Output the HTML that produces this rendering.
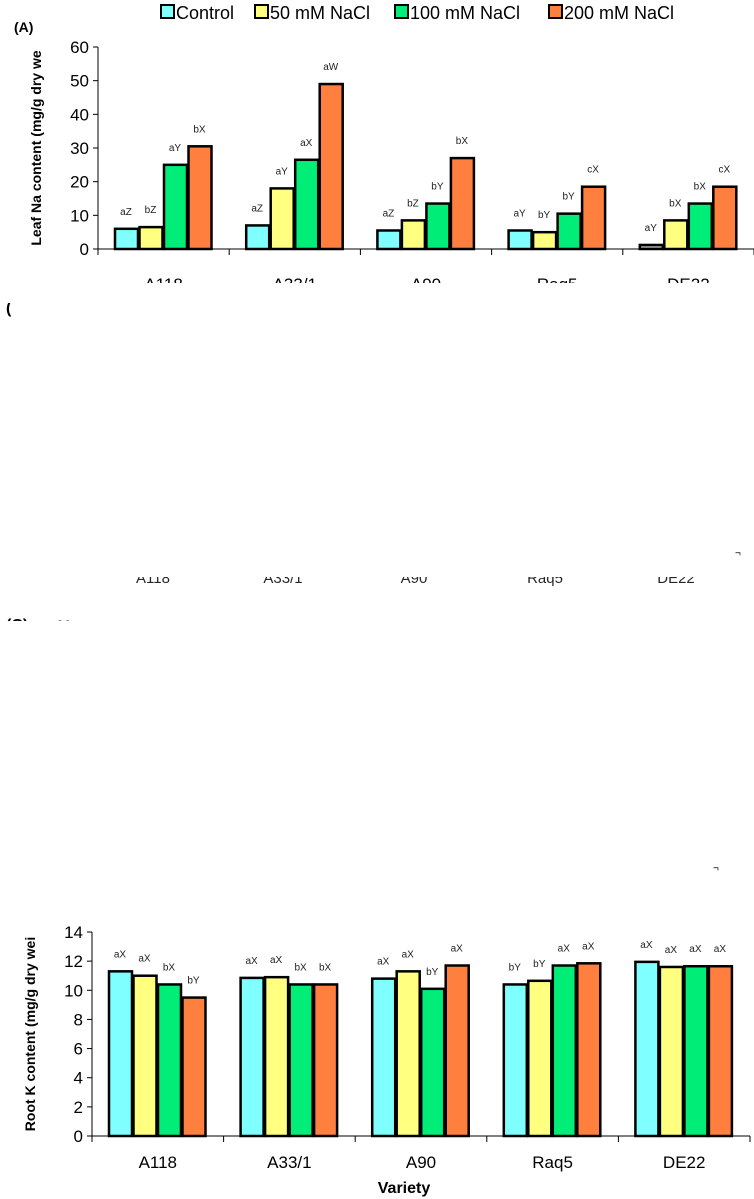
<!DOCTYPE html>
<html><head><meta charset="utf-8">
<style>
body{margin:0;background:#fff;width:754px;height:1199px;overflow:hidden;font-family:"Liberation Sans",sans-serif;}
svg{display:block}
</style></head><body>
<svg id="chart" width="754" height="1199" viewBox="0 0 754 1199">
<g font-size="18" fill="#000">
 <g><rect x="161" y="5" width="13" height="13" fill="#7FFFFF" stroke="#000" stroke-width="2"/><text x="176" y="19">Control</text></g>
 <g><rect x="255" y="5" width="13" height="13" fill="#FFFF80" stroke="#000" stroke-width="2"/><text x="270" y="19">50 mM NaCl</text></g>
 <g><rect x="395" y="5" width="13" height="13" fill="#00EE77" stroke="#000" stroke-width="2"/><text x="410" y="19">100 mM NaCl</text></g>
 <g><rect x="549" y="5" width="13" height="13" fill="#FF7F3F" stroke="#000" stroke-width="2"/><text x="564" y="19">200 mM NaCl</text></g>
</g>
<text x="14" y="32" font-size="14" font-weight="bold">(A)</text>
<text x="6" y="313" font-size="16" font-weight="bold">(</text>
<text x="6" y="630" font-size="16" font-weight="bold">(C)</text>
<text x="56" y="630" font-size="14">20</text>
<rect x="0" y="621" width="120" height="15" fill="#fff"/>
<text x="735" y="556" font-size="10">¬</text>
<text x="713" y="871" font-size="10">¬</text>
<g font-size="15" fill="#000" opacity="0.85">
<text x="153" y="583" text-anchor="middle">A118</text><text x="283" y="583" text-anchor="middle">A33/1</text><text x="414" y="583" text-anchor="middle">A90</text><text x="545" y="583" text-anchor="middle">Raq5</text><text x="676" y="583" text-anchor="middle">DE22</text>
</g>
<rect x="100" y="565" width="640" height="12" fill="#fff"/>
<g id="top"></g>
<g id="bot"></g>
<rect x="0" y="283" width="754" height="20" fill="#fff"/>
</svg>
<script>
const categories=["A118","A33/1","A90","Raq5","DE22"];
const seriesNames=["Control","50 mM NaCl","100 mM NaCl","200 mM NaCl"];
const naControl=[6,7,5.5,5.5,1.2];
const na50=[6.5,18,8.5,5,8.5];
const na100=[25,26.5,13.5,10.5,13.5];
const na200=[30.5,49,27,18.5,18.5];
const naLetters=[["aZ","bZ","aY","bX"],["aZ","aY","aX","aW"],["aZ","bZ","bY","bX"],["aY","bY","bY","cX"],["aY","bX","bX","cX"]];
const naTicks=[0,10,20,30,40,50,60];
const kControl=[11.3,10.85,10.8,10.4,11.95];
const k50=[11.0,10.9,11.3,10.65,11.6];
const k100=[10.4,10.4,10.1,11.7,11.65];
const k200=[9.5,10.4,11.7,11.85,11.65];
const kLetters=[["aX","aX","bX","bY"],["aX","aX","bX","bX"],["aX","aX","bY","aX"],["bY","bY","aX","aX"],["aX","aX","aX","aX"]];
const kTicks=[0,2,4,6,8,10,12,14];
const colors=["#7FFFFF","#FFFF80","#00EE77","#FF7F3F"];
const NS="http://www.w3.org/2000/svg";
function mk(t,a,p){const e=document.createElementNS(NS,t);for(const k in a)e.setAttribute(k,a[k]);p.appendChild(e);return e;}
function draw(g,cfg){
 const {x0,x1,y0,y1,max,ticks,series,letters,title,titleX,showLabels,labelY,tag}=cfg;
 const ys=v=>y0-(v/max)*(y0-y1);
 const gw=(x1-x0)/categories.length;
 const xs=(ci,si)=>x0+ci*gw+17+si*24.5;
 const ax=mk("line",{x1:x0,y1:y1,x2:x0,y2:y0,stroke:"#000","stroke-width":1},g);
 
 
 const bx=mk("line",{x1:x0,y1:y0,x2:x1,y2:y0,stroke:"#000","stroke-width":1},g);
 
 
 ticks.forEach(t=>{
  const tl=mk("line",{x1:x0-5,y1:ys(t),x2:x0,y2:ys(t),stroke:"#000"},g);
  
  
  const tx=mk("text",{x:x0-9,y:ys(t)+6,"text-anchor":"end","font-size":17},g);
  tx.textContent=t;
  
  
 });
 for(let i=0;i<=categories.length;i++){
  const xt=x0+i*gw;
  const l=mk("line",{x1:xt,y1:y0,x2:xt,y2:y0+6,stroke:"#000"},g);
  
  
 }
 categories.forEach((c,ci)=>{
  series.forEach((s,si)=>{
   const v=s[ci];let fill=colors[si];
   if(tag==="na"&&ci===4&&si===0)fill="#aaa";
   const r=mk("rect",{x:xs(ci,si),y:ys(v),width:23,height:y0-ys(v),fill:fill,stroke:"#000","stroke-width":2.5},g);
   
   
   const lt=mk("text",{x:xs(ci,si)+11,y:ys(v)-14,"text-anchor":"middle","font-size":10,fill:"#222"},g);
   lt.textContent=letters[ci][si];
   
   
  });
  if(showLabels){
   const cl=mk("text",{x:x0+ci*gw+gw/2,y:labelY,"text-anchor":"middle","font-size":17},g);
   cl.textContent=c;
   
   
  }
 });
 const tt=mk("text",{x:titleX,y:(y0+y1)/2,"text-anchor":"middle","font-size":14,"font-weight":"bold",transform:`rotate(-90 ${titleX} ${(y0+y1)/2})`},g);
 tt.textContent=title;
 
 
}
draw(document.getElementById("top"),{x0:98,x1:754,y0:249,y1:47,max:60,ticks:naTicks,series:[naControl,na50,na100,na200],letters:naLetters,title:"Leaf Na content (mg/g dry we",titleX:41,showLabels:true,labelY:290,tag:"na"});
draw(document.getElementById("bot"),{x0:92,x1:750,y0:1136,y1:932,max:14,ticks:kTicks,series:[kControl,k50,k100,k200],letters:kLetters,title:"Root K content (mg/g dry wei",titleX:35,showLabels:true,labelY:1168,tag:"k"});
const v=document.createElementNS(NS,"text");
v.setAttribute("x",404);v.setAttribute("y",1193);v.setAttribute("text-anchor","middle");v.setAttribute("font-size",16);v.setAttribute("font-weight","bold");
v.textContent="Variety";


document.getElementById("bot").appendChild(v);
</script>
</body></html>
